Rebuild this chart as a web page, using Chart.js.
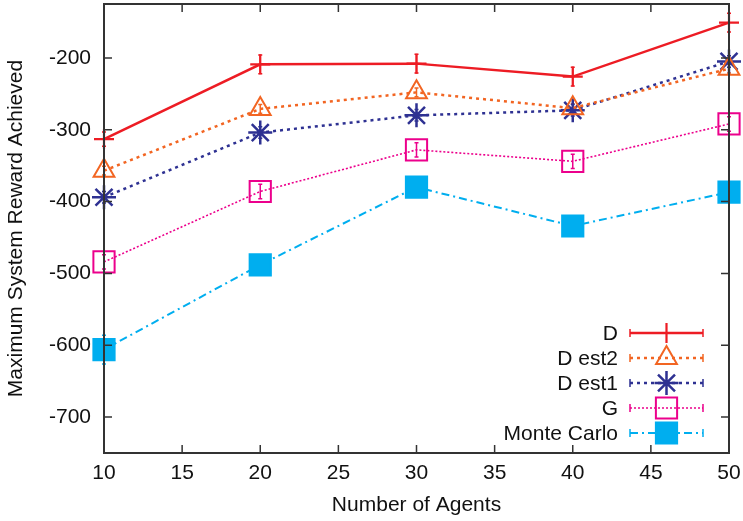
<!DOCTYPE html>
<html>
<head>
<meta charset="utf-8">
<script src="https://cdn.jsdelivr.net/npm/chart.js@4"></script>
<style>
html,body{margin:0;padding:0;background:#fff;}
#wrap{width:743px;height:521px;}
</style>
</head>
<body>
<div id="wrap"><canvas id="c" width="743" height="521"></canvas></div>
<script>
const agents = [10, 20, 30, 40, 50];
const seriesNames = ["D", "D est2", "D est1", "G", "Monte Carlo"];
const dValues      = [-313, -209, -208, -226, -151];
const dEst2Values  = [-357, -271, -248, -270, -215];
const dEst1Values  = [-394, -304, -280, -273, -205];
const gValues      = [-484, -386, -328, -344, -292];
const mcValues     = [-606, -488, -380, -434, -387];
const dErr     = [10, 13, 13, 13, 13];
const dEst2Err = [6, 6, 6, 6, 6];
const dEst1Err = [8, 8, 8, 8, 8];
const gErr     = [10, 10, 10, 10, 10];
const mcErr    = [20, 8, 8, 8, 8];
const yTicks = [-200, -300, -400, -500, -600, -700];
const xTicks = [10, 15, 20, 25, 30, 35, 40, 45, 50];

const FONT = "'Liberation Sans', Arial, Helvetica, sans-serif";
const FS = 21;

function mk(label, vals, errs, color, dash, width, style, radius, fill, pbw) {
  return {
    label: label,
    data: agents.map((x, i) => ({x: x, y: vals[i]})),
    errors: errs,
    borderColor: color,
    backgroundColor: fill ? color : 'rgba(0,0,0,0)',
    borderDash: dash,
    borderWidth: width,
    pointStyle: style,
    pointRadius: radius,
    pointHoverRadius: radius,
    pointBorderColor: color,
    pointBackgroundColor: fill ? color : 'rgba(0,0,0,0)',
    pointBorderWidth: pbw,
    tension: 0,
    clip: false,
    fill: false
  };
}

const datasets = [
  mk(seriesNames[0], dValues, dErr, '#ed1c24', [], 2.5, 'cross', 10, false, 2.2),
  mk(seriesNames[1], dEst2Values, dEst2Err, '#f26522', [3, 4], 2.5, 'triangle', 12, false, 2),
  mk(seriesNames[2], dEst1Values, dEst1Err, '#2e3192', [3, 4], 2.5, 'star', 12, false, 2.5),
  mk(seriesNames[3], gValues, gErr, '#ec008c', [2, 2], 1.6, 'rect', 15, false, 2),
  mk(seriesNames[4], mcValues, mcErr, '#00aeef', [8, 4, 2, 4], 2, 'rect', 15, true, 2)
];

const framePlugin = {
  id: 'frame',
  beforeDatasetsDraw(chart) {
    const ctx = chart.ctx;
    const xs = chart.scales.x, ys = chart.scales.y;
    chart.data.datasets.forEach(ds => {
      ctx.save();
      ctx.strokeStyle = ds.borderColor;
      ctx.lineWidth = 1.5;
      ds.data.forEach((p, i) => {
        const e = ds.errors[i];
        const px = xs.getPixelForValue(p.x);
        const y1 = ys.getPixelForValue(p.y - e);
        const y2 = ys.getPixelForValue(p.y + e);
        ctx.beginPath();
        ctx.moveTo(px, y1); ctx.lineTo(px, y2);
        ctx.moveTo(px - 2, y1); ctx.lineTo(px + 2, y1);
        ctx.moveTo(px - 2, y2); ctx.lineTo(px + 2, y2);
        ctx.stroke();
      });
      ctx.restore();
    });
  },
  afterDatasetsDraw(chart) {
    const ctx = chart.ctx;
    const a = chart.chartArea;
    const xs = chart.scales.x, ys = chart.scales.y;
    ctx.save();
    ctx.strokeStyle = '#333';
    ctx.lineWidth = 1.5;
    ctx.setLineDash([]);
    const tl = 8;
    ctx.beginPath();
    xTicks.forEach(v => {
      const px = xs.getPixelForValue(v);
      ctx.moveTo(px, a.bottom); ctx.lineTo(px, a.bottom - tl);
      ctx.moveTo(px, a.top); ctx.lineTo(px, a.top + tl);
    });
    yTicks.forEach(v => {
      const py = ys.getPixelForValue(v);
      ctx.moveTo(a.left, py); ctx.lineTo(a.left + tl, py);
      ctx.moveTo(a.right, py); ctx.lineTo(a.right - tl, py);
    });
    ctx.stroke();
    ctx.lineWidth = 2;
    ctx.strokeRect(a.left, a.top, a.right - a.left, a.bottom - a.top);
    ctx.restore();

    // legend
    const ds = chart.data.datasets;
    const textRight = a.right - 111;
    const lx1 = a.right - 99, lx2 = a.right - 26, lmid = (lx1 + lx2) / 2;
    ctx.save();
    ctx.font = FS + 'px ' + FONT;
    ctx.textAlign = 'right';
    ctx.textBaseline = 'middle';
    ds.forEach((d, i) => {
      const y = a.bottom - 120 + i * 25;
      ctx.fillStyle = '#111';
      ctx.fillText(d.label, textRight, y + 1);
      ctx.strokeStyle = d.borderColor;
      ctx.lineWidth = d.borderWidth;
      ctx.setLineDash(d.borderDash);
      ctx.beginPath(); ctx.moveTo(lx1, y); ctx.lineTo(lx2, y); ctx.stroke();
      ctx.setLineDash([]);
      ctx.lineWidth = 1.5;
      ctx.beginPath();
      ctx.moveTo(lx1, y - 4); ctx.lineTo(lx1, y + 4);
      ctx.moveTo(lx2, y - 4); ctx.lineTo(lx2, y + 4);
      ctx.stroke();
      ctx.fillStyle = d.pointBackgroundColor;
      ctx.strokeStyle = d.borderColor;
      ctx.lineWidth = d.pointBorderWidth;
      Chart.helpers.drawPoint(ctx, {
        pointStyle: d.pointStyle,
        radius: d.pointRadius,
        borderWidth: d.pointBorderWidth,
        rotation: 0
      }, lmid, y);
    });
    ctx.restore();
  }
};

new Chart(document.getElementById('c'), {
  type: 'line',
  data: { datasets: datasets },
  plugins: [framePlugin],
  options: {
    responsive: false,
    animation: false,
    events: [],
    layout: { autoPadding: false, padding: { top: 4, right: 14, left: 0, bottom: 0 } },
    plugins: { legend: { display: false }, tooltip: { enabled: false } },
    scales: {
      x: {
        type: 'linear',
        min: 10, max: 50,
        afterBuildTicks: s => { s.ticks = xTicks.map(v => ({value: v})); },
        afterFit: s => { s.height = 68; s.paddingLeft = 0; s.paddingRight = 0; },
        grid: { display: false, drawTicks: false },
        border: { display: false },
        ticks: { font: { family: FONT, size: FS }, color: '#111', padding: 8, maxRotation: 0, autoSkip: false },
        title: { display: true, text: 'Number of Agents', font: { family: FONT, size: FS }, color: '#111', padding: { bottom: 3, top: 0 } }
      },
      y: {
        type: 'linear',
        min: -750, max: -125,
        afterBuildTicks: s => { s.ticks = yTicks.map(v => ({value: v})); },
        afterFit: s => { s.width = 104; s.paddingTop = 0; s.paddingBottom = 0; },
        grid: { display: false, drawTicks: false },
        border: { display: false },
        ticks: { font: { family: FONT, size: FS }, color: '#111', padding: 13, autoSkip: false },
        title: { display: true, text: 'Maximum System Reward Achieved', font: { family: FONT, size: FS }, color: '#111', padding: { top: 4, bottom: 0 } }
      }
    }
  }
});
</script>
</body>
</html>
